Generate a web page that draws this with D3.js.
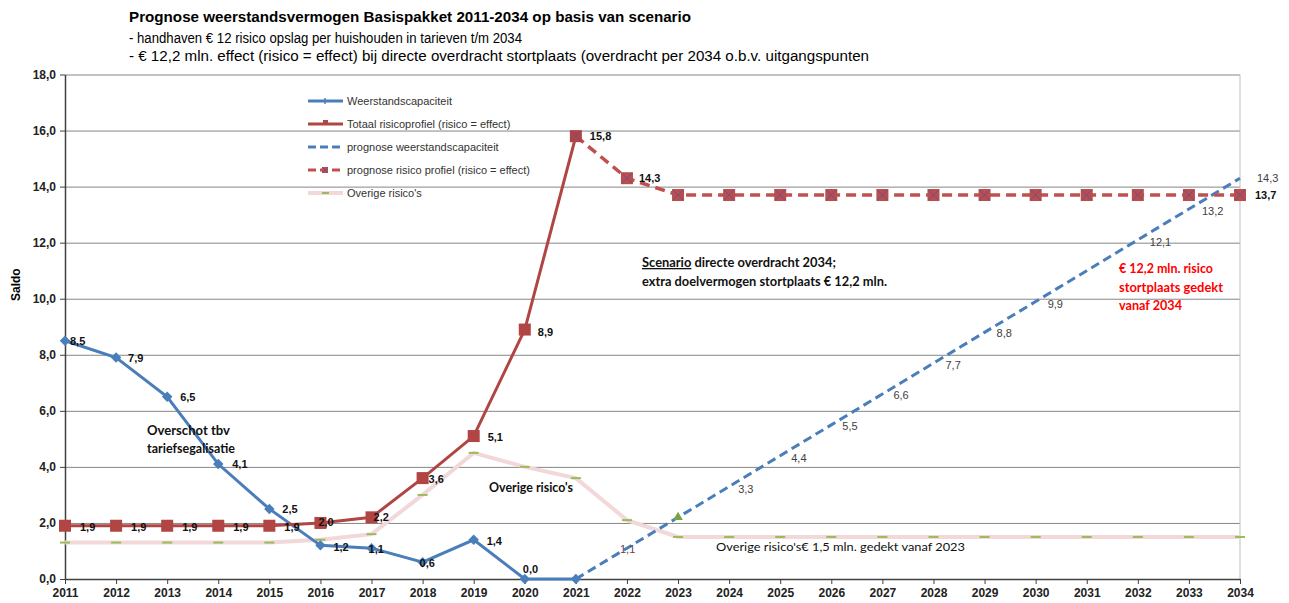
<!DOCTYPE html>
<html>
<head>
<meta charset="utf-8">
<script src="https://cdn.jsdelivr.net/npm/d3@7/dist/d3.min.js"></script>
<style>
  body { margin: 0; background: #fff; }
  text { font-family: "Liberation Sans", Arial, sans-serif; }
  .note { font-family: Lato, "Open Sans", sans-serif; }
</style>
</head>
<body>
<svg id="chart"></svg>
<script>
// --- data -------------------------------------------------------------
var years = [2011, 2012, 2013, 2014, 2015, 2016, 2017, 2018, 2019, 2020, 2021, 2022,
             2023, 2024, 2025, 2026, 2027, 2028, 2029, 2030, 2031, 2032, 2033, 2034];
var histYears = [2011, 2012, 2013, 2014, 2015, 2016, 2017, 2018, 2019, 2020, 2021];
var progYears = [2021, 2022, 2023, 2024, 2025, 2026, 2027, 2028, 2029, 2030, 2031, 2032, 2033, 2034];

var weerstand = [8.5, 7.9, 6.5, 4.1, 2.5, 1.2, 1.1, 0.6, 1.4, 0.0, 0.0];
var risico = [1.9, 1.9, 1.9, 1.9, 1.9, 2.0, 2.2, 3.6, 5.1, 8.9, 15.8];
var progWeerstand = [0.0, 1.1, 2.2, 3.3, 4.4, 5.5, 6.6, 7.7, 8.8, 9.9, 11.0, 12.1, 13.2, 14.3];
var progRisico = [15.8, 14.3, 13.7, 13.7, 13.7, 13.7, 13.7, 13.7, 13.7, 13.7, 13.7, 13.7, 13.7, 13.7];
var overige = [1.3, 1.3, 1.3, 1.3, 1.3, 1.4, 1.6, 3.0, 4.5, 4.0, 3.6, 2.1,
               1.5, 1.5, 1.5, 1.5, 1.5, 1.5, 1.5, 1.5, 1.5, 1.5, 1.5, 1.5];
var yTicks = [0, 2, 4, 6, 8, 10, 12, 14, 16, 18];

var legendNames = ["Weerstandscapaciteit", "Totaal risicoprofiel (risico = effect)",
  "prognose weerstandscapaciteit", "prognose risico profiel (risico = effect)", "Overige risico's"];

// --- layout -----------------------------------------------------------
var svgWidth = 1289, svgHeight = 603;
var plotLeft = 65, plotRight = 1240, plotTop = 74.5, plotBottom = 579;

var svg = d3.select("#chart").attr("width", svgWidth).attr("height", svgHeight);

var x = d3.scaleLinear().domain([2011, 2034]).range([plotLeft, plotRight]);
var y = d3.scaleLinear().domain([0, 18]).range([plotBottom, plotTop]);
var fmt = function(v) { return d3.format(".1f")(v).replace(".", ","); };

var blue = "#4a7ebb", red = "#b04543", redDash = "#c0504d", pink = "#f2d8d8", green = "#9bbb59";

// titles
var titles = svg.append("g");
titles.append("text").attr("x", 129).attr("y", 22).attr("font-size", 15).attr("font-weight", "bold")
  .attr("textLength", 562).attr("lengthAdjust", "spacingAndGlyphs")
  .text("Prognose weerstandsvermogen Basispakket 2011-2034 op basis van scenario");
titles.append("text").attr("x", 129).attr("y", 43).attr("font-size", 14)
  .attr("textLength", 393).attr("lengthAdjust", "spacingAndGlyphs")
  .text("- handhaven € 12 risico opslag per huishouden in tarieven t/m 2034");
titles.append("text").attr("x", 129).attr("y", 61).attr("font-size", 14)
  .attr("textLength", 740).attr("lengthAdjust", "spacingAndGlyphs")
  .text("- € 12,2 mln. effect (risico = effect) bij directe overdracht stortplaats (overdracht per 2034 o.b.v. uitgangspunten");

// gridlines
svg.append("g")
  .attr("transform", "translate(" + plotLeft + ",0)")
  .call(d3.axisLeft(y).tickValues(yTicks.slice(1)).tickSize(-(plotRight - plotLeft)).tickFormat(""))
  .call(function(g) { g.select(".domain").remove(); })
  .selectAll("line").attr("stroke", "#868686").attr("stroke-width", 1);

// right border of plot
svg.append("line").attr("x1", plotRight).attr("x2", plotRight).attr("y1", plotTop).attr("y2", plotBottom)
  .attr("stroke", "#bfbfbf");

// Y axis
var yAxis = svg.append("g")
  .attr("transform", "translate(" + plotLeft + ",0)")
  .call(d3.axisLeft(y).tickValues(yTicks).tickSize(5).tickSizeOuter(0).tickFormat(fmt));
yAxis.select(".domain").attr("stroke", "#404040").attr("stroke-width", 1.5);
yAxis.selectAll("line").attr("stroke", "#404040");
yAxis.selectAll("text").attr("font-size", 12).attr("font-weight", "bold").attr("fill", "#222")
  .attr("font-family", "Liberation Sans, Arial, sans-serif").attr("x", -9);

svg.append("text").attr("transform", "translate(20," + y(10.5) + ") rotate(-90)")
  .attr("text-anchor", "middle").attr("font-size", 12).attr("font-weight", "bold").text("Saldo");

// X axis
var xAxis = svg.append("g")
  .attr("transform", "translate(0," + plotBottom + ")")
  .call(d3.axisBottom(x).tickValues(years).tickSize(5).tickSizeOuter(0).tickFormat(d3.format("d")));
xAxis.select(".domain").attr("stroke", "#404040").attr("stroke-width", 1.5);
xAxis.selectAll("line").attr("stroke", "#404040");
xAxis.selectAll("text").attr("font-size", 12).attr("font-weight", "bold").attr("fill", "#222")
  .attr("font-family", "Liberation Sans, Arial, sans-serif").attr("y", 9);

// --- series -----------------------------------------------------------
function pts(xs, vs) { return xs.map(function(d, i) { return { year: d, v: vs[i] }; }); }
var line = d3.line().x(function(d) { return x(d.year); }).y(function(d) { return y(d.v); });

var overigeData = pts(years, overige);
var weerstandData = pts(histYears, weerstand);
var risicoData = pts(histYears, risico);
var progWData = pts(progYears, progWeerstand);
var progRData = pts(progYears, progRisico);

// overige risico's
svg.append("path").datum(overigeData).attr("d", line)
  .attr("fill", "none").attr("stroke", pink).attr("stroke-width", 4);
svg.selectAll(".omark").data(overigeData).enter().append("line")
  .attr("x1", function(d) { return x(d.year) - 5; }).attr("x2", function(d) { return x(d.year) + 5; })
  .attr("y1", function(d) { return y(d.v); }).attr("y2", function(d) { return y(d.v); })
  .attr("stroke", green).attr("stroke-width", 2);

// prognose weerstandscapaciteit
svg.append("path").datum(progWData).attr("d", line)
  .attr("fill", "none").attr("stroke", blue).attr("stroke-width", 3).attr("stroke-dasharray", "9 5");
svg.append("path")
  .attr("d", d3.symbol().type(d3.symbolTriangle).size(40)())
  .attr("transform", "translate(" + x(progYears[2]) + "," + y(progWeerstand[2]) + ")")
  .attr("fill", "#77a345");

// weerstandscapaciteit
svg.append("path").datum(weerstandData).attr("d", line)
  .attr("fill", "none").attr("stroke", blue).attr("stroke-width", 3);
svg.selectAll(".wmark").data(weerstandData).enter().append("path")
  .attr("d", d3.symbol().type(d3.symbolDiamond2).size(70)())
  .attr("transform", function(d) { return "translate(" + x(d.year) + "," + y(d.v) + ")"; })
  .attr("fill", blue);

// prognose risico
svg.append("path").datum(progRData).attr("d", line)
  .attr("fill", "none").attr("stroke", redDash).attr("stroke-width", 3.5).attr("stroke-dasharray", "10 6");
var rm = svg.selectAll(".prmark").data(progRData.slice(1)).enter().append("g")
  .attr("transform", function(d) { return "translate(" + x(d.year) + "," + y(d.v) + ")"; });
rm.append("rect").attr("x", -6).attr("y", -6).attr("width", 12).attr("height", 12).attr("fill", "#b84f4f");
rm.append("path").attr("d", "M-5,-5L5,5M-5,5L5,-5").attr("stroke", "#7a4a8a").attr("stroke-width", 1);

// totaal risicoprofiel
svg.append("path").datum(risicoData).attr("d", line)
  .attr("fill", "none").attr("stroke", red).attr("stroke-width", 3);
svg.selectAll(".rmark").data(risicoData).enter().append("rect")
  .attr("x", function(d) { return x(d.year) - 6; }).attr("y", function(d) { return y(d.v) - 6; })
  .attr("width", 12).attr("height", 12).attr("fill", red);
// the 2021 peak carries the crossed marker of the forecast
var pk = svg.append("g").attr("transform", "translate(" + x(2021) + "," + y(15.8) + ")");
pk.append("path").attr("d", "M-5,-5L5,5M-5,5L5,-5").attr("stroke", "#7a4a8a").attr("stroke-width", 1);

// --- data labels ------------------------------------------------------
// offsets [dx, dy] from the marker, text starts at dx
var wOff = { 2011: [5, 0], 2012: [12, 0], 2013: [13, 0], 2014: [14, 0], 2015: [13, 0], 2016: [13, 2],
             2017: [-3, 1], 2018: [-3, 1], 2019: [13, 1], 2020: [-2, -10] };
var rOff = { 2011: [15, 1], 2012: [15, 1], 2013: [15, 1], 2014: [15, 1], 2015: [15, 1], 2016: [-2, -1],
             2017: [2, 0], 2018: [6, 1], 2019: [14, 1], 2020: [13, 2], 2021: [14, 0] };
var prOff = { 2022: [12, 0], 2034: [15, 0] };
var pwOff = { 2022: [-7, 1], 2024: [9, 2], 2025: [11, 2], 2026: [11, 1], 2027: [11, 1], 2028: [12, 2],
              2029: [12, 1], 2030: [12, 2], 2032: [12, 2], 2033: [13, 2], 2034: [17, 0] };

function labels(data, off, weight, color) {
  svg.append("g").selectAll("text").data(data.filter(function(d) { return off[d.year]; }))
    .enter().append("text")
    .attr("x", function(d) { return x(d.year) + off[d.year][0]; })
    .attr("y", function(d) { return y(d.v) + off[d.year][1] + 4; })
    .attr("font-size", 11).attr("font-weight", weight)
    .attr("fill", typeof color === "function" ? color : function() { return color; })
    .text(function(d) { return fmt(d.v); });
}
labels(weerstandData, wOff, "bold", "#111");
labels(risicoData, rOff, "bold", "#111");
labels(progRData, prOff, "bold", "#111");
labels(progWData, pwOff, "normal", function(d) { return d.year === 2022 ? "#6b3a5a" : "#404040"; });

// --- annotations ------------------------------------------------------
function note(tx, ty, str, len, color, weight) {
  return svg.append("text").attr("class", "note").attr("x", tx).attr("y", ty)
    .attr("font-size", 13).attr("font-weight", weight || "bold").attr("fill", color || "#111")
    .attr("textLength", len).attr("lengthAdjust", "spacingAndGlyphs").text(str);
}
note(147, 435, "Overschot tbv", 83);
note(147, 453, "tariefsegalisatie", 88);
note(489, 492, "Overige risico's", 84);
note(716, 551, "Overige risico's€ 1,5 mln. gedekt  vanaf 2023", 249, "#111", "normal").attr("font-size", 12);
var sc = note(642, 267, "", 194);
sc.append("tspan").attr("text-decoration", "underline").text("Scenario");
sc.append("tspan").text("  directe overdracht 2034;");
note(642, 286, "extra doelvermogen stortplaats € 12,2 mln.", 245);
note(1119, 273, "€ 12,2 mln. risico", 94, "#ff0000");
note(1119, 292, "stortplaats gedekt", 104, "#ff0000");
note(1119, 310, "vanaf  2034", 63, "#ff0000");

// --- legend -----------------------------------------------------------
var lg = svg.append("g").attr("transform", "translate(308,0)");
var rowY = [101, 124, 147, 170, 193];
lg.selectAll("text").data(legendNames).enter().append("text")
  .attr("x", 39).attr("y", function(d, i) { return rowY[i] + 4; })
  .attr("font-size", 11).attr("fill", "#333").text(function(d) { return d; });
lg.append("line").attr("x1", 0).attr("x2", 35).attr("y1", rowY[0]).attr("y2", rowY[0]).attr("stroke", blue).attr("stroke-width", 3);
lg.append("line").attr("x1", 17).attr("x2", 17).attr("y1", rowY[0] - 3).attr("y2", rowY[0] + 3).attr("stroke", blue).attr("stroke-width", 1.5);
lg.append("line").attr("x1", 0).attr("x2", 35).attr("y1", rowY[1]).attr("y2", rowY[1]).attr("stroke", red).attr("stroke-width", 3);
lg.append("rect").attr("x", 15).attr("y", rowY[1] - 4).attr("width", 5).attr("height", 5).attr("fill", red);
lg.append("line").attr("x1", 0).attr("x2", 35).attr("y1", rowY[2]).attr("y2", rowY[2]).attr("stroke", blue).attr("stroke-width", 3).attr("stroke-dasharray", "8 4");
lg.append("line").attr("x1", 0).attr("x2", 35).attr("y1", rowY[3]).attr("y2", rowY[3]).attr("stroke", redDash).attr("stroke-width", 3).attr("stroke-dasharray", "8 4");
lg.append("rect").attr("x", 14).attr("y", rowY[3] - 3).attr("width", 6).attr("height", 6).attr("fill", "#b84f4f");
lg.append("path").attr("d", "M14," + (rowY[3] - 3) + "l6,6m-6,0l6,-6").attr("stroke", "#7a4a8a").attr("stroke-width", 1);
lg.append("line").attr("x1", 0).attr("x2", 35).attr("y1", rowY[4]).attr("y2", rowY[4]).attr("stroke", pink).attr("stroke-width", 4);
lg.append("line").attr("x1", 14).attr("x2", 21).attr("y1", rowY[4]).attr("y2", rowY[4]).attr("stroke", green).attr("stroke-width", 2);
</script>
</body>
</html>
